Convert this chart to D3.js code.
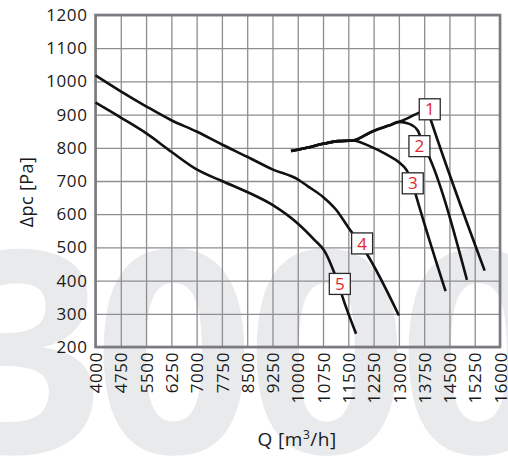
<!DOCTYPE html>
<html>
<head>
<meta charset="utf-8">
<script src="https://cdn.jsdelivr.net/npm/d3@7"></script>
<style>
  body { margin: 0; background: #fff; }
  svg { display: block; font-family: "Open Sans", sans-serif; }
</style>
</head>
<body>
<svg id="chart" width="508" height="456"></svg>
<script>

// pressure curves, Q [m3/h] vs dpc [Pa]
const curve1 = [[9800,790],[10300,801],[10750,812],[11200,820],[11630,822],[12230,850],[12700,867],[13000,878],[13300,891],[13600,906],[13850,914],[13960,880],[15545,430]];
const curve2 = [[9800,790],[10300,801],[10750,812],[11200,820],[11630,822],[12230,850],[12700,867],[13000,878],[13310,872],[13560,852],[13700,815],[13910,770],[15020,402]];
const curve3 = [[9800,790],[10300,801],[10750,812],[11200,820],[11630,822],[12130,805],[12630,780],[13020,755],[13230,733],[13400,695],[13512,655],[14385,368]];
const curve4 = [[4000,1018],[4750,970],[5500,925],[6250,883],[7000,849],[7750,810],[8500,773],[9250,735],[10000,705],[10300,684],[10750,652],[11150,612],[11500,560],[11800,518],[12050,480],[13000,295]];
const curve5 = [[4000,936],[4750,891],[5500,844],[6250,788],[7000,735],[7750,700],[8500,667],[9250,628],[10000,572],[10500,522],[10800,488],[11000,445],[11200,392],[11330,350],[11730,240]];

const curves = [curve1, curve2, curve3, curve4, curve5];
const labelNames = ["1","2","3","4","5"];
const labelSpots = [[13916,916],[13610,805],[13412,693],[11909,512],[11248,390]];

const xTicks = d3.range(4000, 16001, 750);
const yTicks = d3.range(200, 1201, 100);

const plotL = 95.5, plotR = 500, plotT = 15, plotB = 347;

const svg = d3.select("#chart");

const x = d3.scaleLinear().domain([4000,16000]).range([plotL,plotR]);
const y = d3.scaleLinear().domain([200,1200]).range([plotB,plotT]);

// watermark, one glyph per position
svg.append("text")
    .attr("x", "24 174 327 479")
    .attr("y", 453)
    .attr("text-anchor", "middle")
    .attr("font-size", 282)
    .attr("font-weight", 700)
    .attr("fill", "#e9eaec")
    .text("3000");

// grid via axes
const xAxis = svg.append("g")
    .attr("transform", "translate(0," + plotB + ")")
    .call(d3.axisBottom(x).tickValues(xTicks).tickSize(-(plotB-plotT)).tickFormat(d3.format("d")));

const yAxis = svg.append("g")
    .attr("transform", "translate(" + plotL + ",0)")
    .call(d3.axisLeft(y).tickValues(yTicks).tickSize(-(plotR-plotL)).tickPadding(8).tickFormat(d3.format("d")));

[xAxis, yAxis].forEach(function(a){
    a.select(".domain").remove();
    a.selectAll(".tick line").attr("stroke","#8e8e92").attr("stroke-width",1.3);
    a.selectAll(".tick text")
        .attr("fill","#1a1a1a")
        .attr("font-family","Open Sans, sans-serif")
        .attr("font-size",17)
        .attr("letter-spacing",0.6);
});

xAxis.selectAll(".tick text")
    .attr("transform","rotate(-90)")
    .attr("x",-5)
    .attr("y",0)
    .attr("dy","0.36em")
    .attr("text-anchor","end");

// frame
svg.append("rect")
    .attr("x", plotL)
    .attr("y", plotT)
    .attr("width", plotR-plotL)
    .attr("height", plotB-plotT)
    .attr("fill","none")
    .attr("stroke","#7a7a80")
    .attr("stroke-width",2.6);

// curves
const line = d3.line()
    .x(d => x(d[0]))
    .y(d => y(d[1]))
    .curve(d3.curveMonotoneX);

svg.selectAll(".curve")
    .data(curves)
    .join("path")
    .attr("class","curve")
    .attr("d", line)
    .attr("fill","none")
    .attr("stroke","#111")
    .attr("stroke-width",2.6)
    .attr("stroke-linejoin","round");

// number boxes
const box = svg.selectAll(".lbl")
    .data(labelSpots)
    .join("g")
    .attr("class","lbl")
    .attr("transform", d => "translate(" + x(d[0]) + "," + y(d[1]) + ")");

box.append("rect")
    .attr("x",-10.5).attr("y",-10.5)
    .attr("width",21).attr("height",21)
    .attr("fill","#fff")
    .attr("stroke","#2a2a2a")
    .attr("stroke-width",1.3);

box.append("text")
    .attr("text-anchor","middle")
    .attr("dy","0.36em")
    .attr("font-size",17)
    .attr("fill","#e3262d")
    .text((d,i) => labelNames[i]);

// axis titles
svg.append("text")
    .attr("transform","translate(33,192) rotate(-90)")
    .attr("text-anchor","middle")
    .attr("font-size",18)
    .attr("fill","#1a1a1a")
    .attr("letter-spacing",0.4)
    .text("Δpc [Pa]");

const qt = svg.append("text")
    .attr("x",297)
    .attr("y",446)
    .attr("text-anchor","middle")
    .attr("font-size",19)
    .attr("fill","#1a1a1a")
    .attr("letter-spacing",0.5);
qt.append("tspan").text("Q [m");
qt.append("tspan").attr("dy",-7).attr("font-size",12).text("3");
qt.append("tspan").attr("dy",7).text("/h]");

</script>
</body>
</html>
